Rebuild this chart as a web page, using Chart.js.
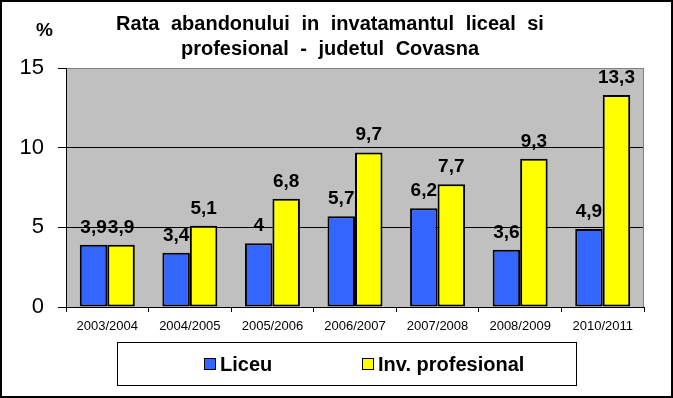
<!DOCTYPE html>
<html lang="ro">
<head>
  <meta charset="utf-8"/>
  <title>Rata abandonului - Covasna</title>
  <script src="https://cdn.jsdelivr.net/npm/chart.js"></script>
  <style>
    body { margin: 0; background: #fff; font-family: Arial, "Liberation Sans", sans-serif; }
    #wrap { position: relative; width: 673px; height: 398px; }
    #frame { position: absolute; left: 0; top: 0; width: 673px; height: 398px; box-sizing: border-box; border: 2px solid #000; pointer-events: none; }
    #title { position: absolute; left: 0; width: 660px; top: 11px; text-align: center; font-weight: bold; font-size: 20px; line-height: 25px; word-spacing: 6px; color: #000; }
    #pct { position: absolute; left: 36px; top: 19px; font-weight: bold; font-size: 19px; color: #000; }
    #legend { position: absolute; left: 117px; top: 342px; width: 460px; height: 44px; box-sizing: border-box; border: 1px solid #000; font-weight: bold; font-size: 20px; color: #000; }
    .item { position: absolute; top: 10px; line-height: 22px; white-space: nowrap; }
    .sw { display: inline-block; width: 10px; height: 10px; border: 1px solid #000; margin-right: 4px; vertical-align: 1px; }
  </style>
</head>
<body>
  <div id="wrap">
    <canvas id="chart" width="673" height="398"></canvas>
    <div id="title">Rata abandonului in invatamantul liceal si<br>profesional - judetul Covasna</div>
    <div id="pct">%</div>
    <div id="legend">
      <div class="item" style="left:86px"><span class="sw" style="background:#3366ff"></span>Liceu</div>
      <div class="item" style="left:244px"><span class="sw" style="background:#ffff00"></span>Inv. profesional</div>
    </div>
    <div id="frame"></div>
  </div>

<script>
  // anii scolari
  const years = ['2003/2004', '2004/2005', '2005/2006', '2006/2007', '2007/2008', '2008/2009', '2010/2011'];
  // rata abandonului (%)
  const liceu = [3.9, 3.4, 4, 5.7, 6.2, 3.6, 4.9];
  const invProfesional = [3.9, 5.1, 6.8, 9.7, 7.7, 9.3, 13.3];
  const yTicks = [0, 5, 10, 15];

  const fontFam = 'Arial, "Liberation Sans", sans-serif';

  // fundal gri pentru zona graficului + margine dreapta
  const plotBg = {
    id: 'plotBg',
    beforeDraw(chart) {
      const { ctx, chartArea: a } = chart;
      ctx.save();
      ctx.fillStyle = '#c0c0c0';
      ctx.fillRect(a.left, a.top, a.right - a.left, a.bottom - a.top);
      ctx.restore();
    },
    afterDraw(chart) {
      const { ctx, chartArea: a } = chart;
      ctx.save();
      ctx.strokeStyle = '#808080';
      ctx.lineWidth = 1;
      ctx.beginPath();
      ctx.moveTo(Math.round(a.right) - 0.5, a.top);
      ctx.lineTo(Math.round(a.right) - 0.5, a.bottom);
      ctx.stroke();
      ctx.restore();
    }
  };

  // etichete cu valori deasupra barelor
  const valueLabels = {
    id: 'valueLabels',
    afterDatasetsDraw(chart) {
      const ctx = chart.ctx;
      ctx.save();
      ctx.font = 'bold 19px ' + fontFam;
      ctx.fillStyle = '#000';
      ctx.textAlign = 'center';
      ctx.textBaseline = 'alphabetic';
      chart.data.datasets.forEach((ds, i) => {
        chart.getDatasetMeta(i).data.forEach((bar, j) => {
          const txt = String(ds.data[j]).replace('.', ',');
          ctx.fillText(txt, bar.x, bar.y - 12);
        });
      });
      ctx.restore();
    }
  };

  const ctx = document.getElementById('chart').getContext('2d');
  new Chart(ctx, {
    type: 'bar',
    data: {
      labels: years,
      datasets: [
        { label: 'Liceu', data: liceu, backgroundColor: '#3366ff', borderColor: '#000', borderWidth: 2, borderSkipped: false },
        { label: 'Inv. profesional', data: invProfesional, backgroundColor: '#ffff00', borderColor: '#000', borderWidth: 2, borderSkipped: false }
      ]
    },
    options: {
      responsive: false,
      animation: false,
      events: [],
      layout: { padding: { left: 0, right: 29, top: 68, bottom: 61 } },
      categoryPercentage: 0.666,
      barPercentage: 1,
      plugins: {
        legend: { display: false },
        title: { display: false },
        tooltip: { enabled: false }
      },
      scales: {
        x: {
          grid: { display: true, drawOnChartArea: false, offset: true, tickLength: 5, color: '#000' },
          border: { color: '#000', width: 1 },
          ticks: { color: '#000', font: { family: fontFam, size: 13 }, padding: 7, maxRotation: 0, autoSkip: false },
          afterFit(scale) { scale.height = 30; }
        },
        y: {
          min: 0,
          max: 15,
          afterBuildTicks(scale) { scale.ticks = yTicks.map(v => ({ value: v })); },
          grid: {
            color: c => (c.tick && c.tick.value === 15 ? '#808080' : '#000'),
            tickColor: '#000',
            tickLength: 8
          },
          border: { color: '#000', width: 1 },
          ticks: { color: '#000', font: { family: fontFam, size: 22 }, padding: 14 },
          afterFit(scale) { scale.width = 66; }
        }
      }
    },
    plugins: [plotBg, valueLabels]
  });
</script>
</body>
</html>
